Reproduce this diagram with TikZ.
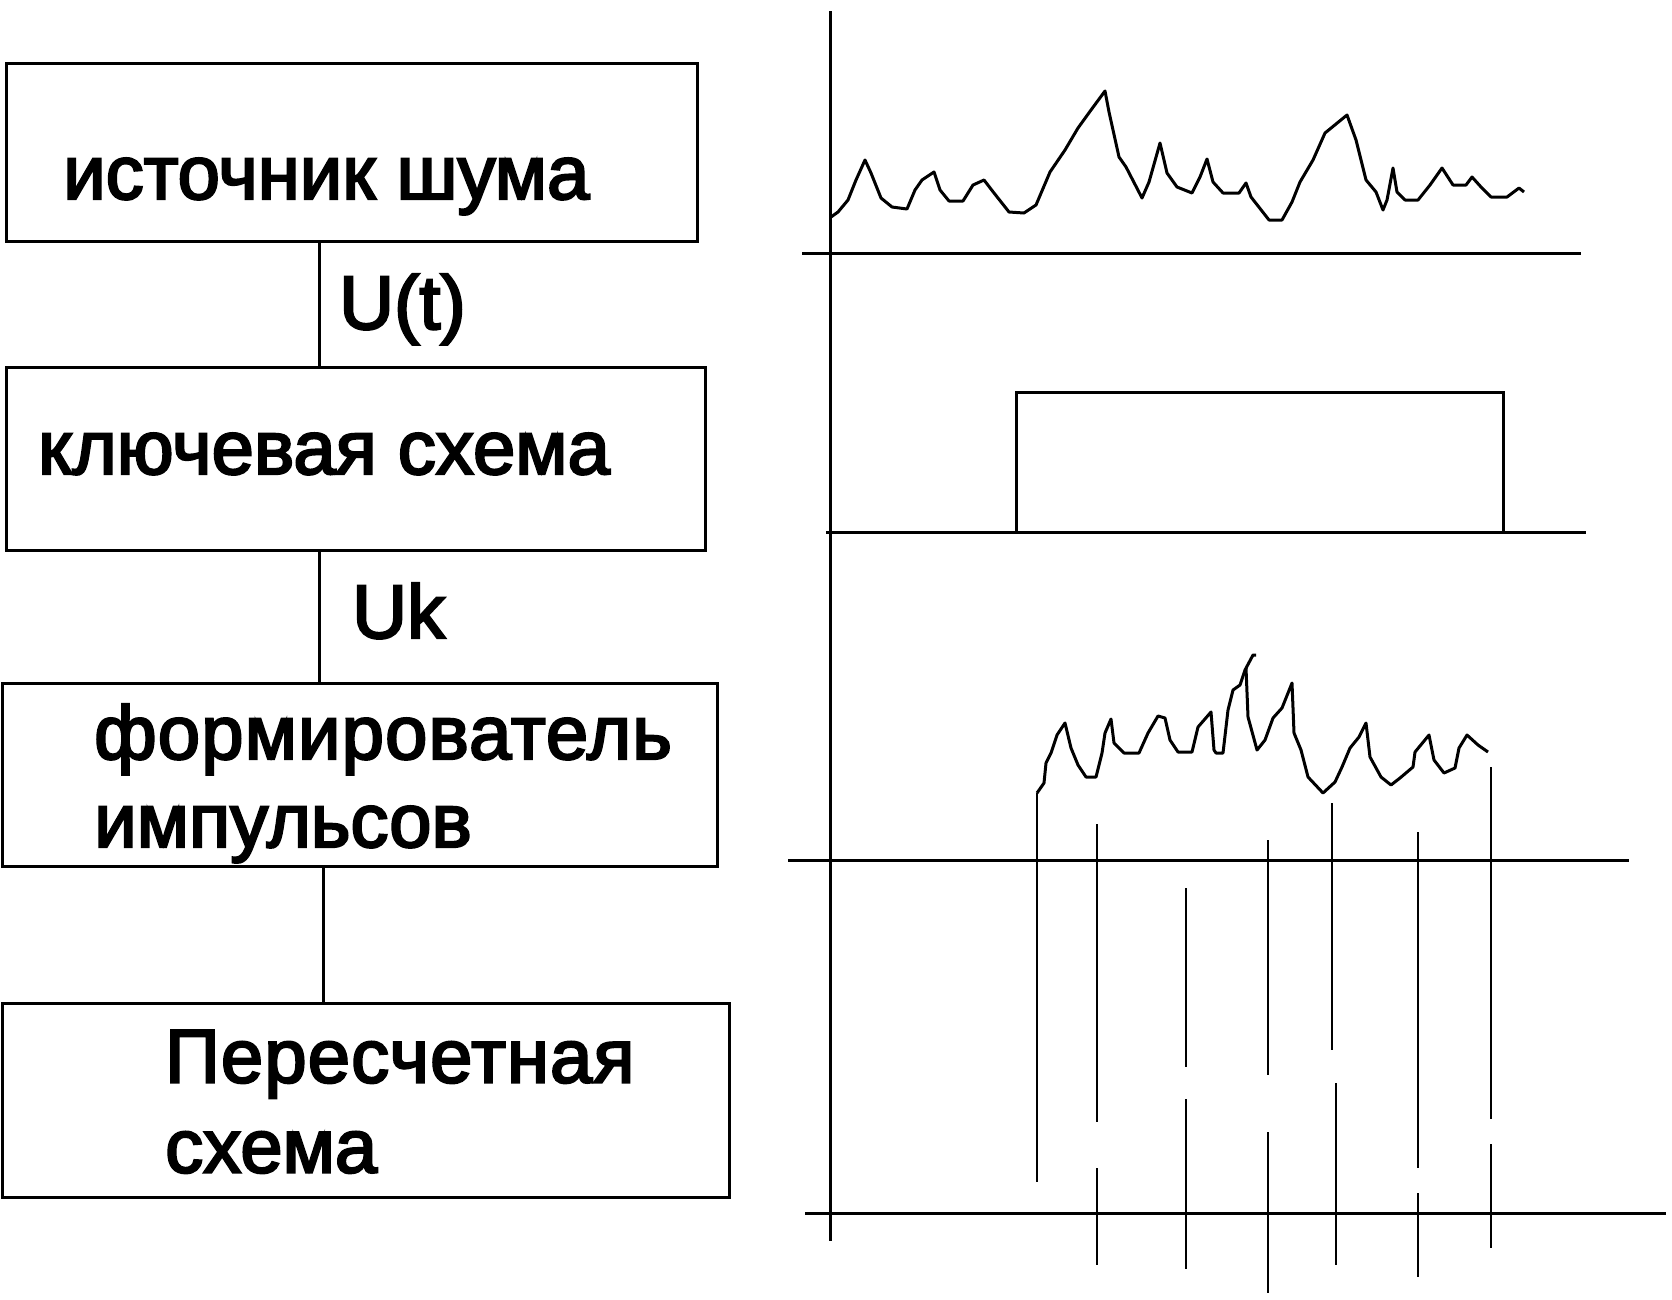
\documentclass[tikz,border=0pt]{standalone}
\usepackage{fontspec}
\setmainfont{Liberation Sans}
\newfontfamily\blkfont[FakeBold=3]{Liberation Sans}

\begin{document}
\begin{tikzpicture}[x=1pt, y=-1pt, line cap=butt]
  \useasboundingbox (0,0) rectangle (1672,1299);
  \tikzset{
    blk/.style={draw, line width=3pt, rectangle, inner sep=0pt, outer sep=0pt, anchor=north west},
    txt/.style={anchor=base west, inner sep=0pt, font=\blkfont\fontsize{76}{88}\selectfont},
    ax/.style={line width=3pt},
    tick/.style={line width=2.7pt},
    sig/.style={line width=3pt, line join=round},
  }

  % 左侧方框
  \node[blk, minimum width=691pt,   minimum height=178.5pt] (src) at (6,63)      {};
  \node[blk, minimum width=699pt,   minimum height=183pt]   (key) at (6,367)     {};
  \node[blk, minimum width=714.5pt, minimum height=183pt]   (frm) at (2.5,683)   {};
  \node[blk, minimum width=726.5pt, minimum height=194pt]   (cnt) at (2.5,1003.5) {};

  \node[txt] (srcA) at (63,199)    {источник шума};
  \node[txt] (keyA) at (38,474)    {ключевая схема};
  \node[txt] (frmA) at (94,759)    {\addfontfeature{LetterSpace=1.5}формирователь};
  \node[txt] (frmB) at (94,847)    {импульсов};
  \node[txt] (cntA) at (165,1082.5) {\addfontfeature{LetterSpace=1.5}Пересчетная};
  \node[txt] (cntB) at (165,1172.5) {схема};

  % 连线与标注
  \draw[ax] (src.south -| 319,0)   -- (key.north -| 319,0);
  \draw[ax] (key.south -| 319,0)   -- (frm.north -| 319,0);
  \draw[ax] (frm.south -| 323.5,0) -- (cnt.north -| 323.5,0);
  \node[txt] (ut) at (339,329) {U(t)};
  \node[txt] (uk) at (352,638) {Uk};

  % 右侧坐标轴
  \draw[ax] (830,11) -- (830,1241);
  \draw[ax] (802,253) -- (1581,253);
  \draw[ax] (826,532) -- (1586,532);
  \draw[ax] (788,860) -- (1629,860);
  \draw[ax] (805,1213) -- (1666,1213);

  % 噪声 U(t)
  \draw[sig] plot coordinates {
    (831,217) (838,212) (848,200) (856,180) (865,160) (871,173) (881,198)
    (892,207) (907,209) (915,190) (922,180) (934,172) (940,190) (949,201)
    (963,201) (973,185) (984,180) (994,193) (1009,212) (1024,213) (1036,205)
    (1050,172) (1065,150) (1078,128) (1091,110) (1105,91) (1109,112) (1119,157)
    (1126,167) (1142,198) (1149,182) (1160,143) (1167,173) (1177,187) (1192,193)
    (1200,177) (1207,159) (1213,182) (1223,193) (1239,193) (1246,183) (1251,197)
    (1269,220) (1282,220) (1292,202) (1300,182) (1313,160) (1325,133) (1347,115)
    (1356,140) (1366,180) (1376,192) (1383,210) (1387,200) (1393,168) (1397,192)
    (1405,200) (1418,200) (1430,185) (1442,168) (1453,185) (1466,185) (1472,177)
    (1481,187) (1491,197) (1507,197) (1519,188) (1524,192)};

  % 键控脉冲
  \draw[ax] (1016,532) -- (1016,392) -- (1503,392) -- (1503,532);

  % 键控后的噪声
  \draw[sig] plot coordinates {
    (1037,793) (1044,783) (1046,763) (1051,753) (1057,735) (1065,723) (1071,748)
    (1078,765) (1086,777) (1096,777) (1102,753) (1105,733) (1111,719) (1114,743)
    (1124,753) (1139,753) (1148,733) (1158,716) (1165,718) (1170,740) (1178,752)
    (1192,752) (1198,727) (1211,712) (1214,750) (1216,753) (1223,753) (1228,710)
    (1233,690) (1240,685) (1245,670) (1253,655) (1256,655)};
  \draw[sig] plot coordinates {
    (1246,668) (1248,717) (1257,750) (1265,740) (1273,718) (1282,708) (1292,683)
    (1294,733) (1301,750) (1308,777) (1323,793) (1335,782) (1342,767) (1350,748)
    (1359,737) (1366,723) (1370,757) (1381,777) (1391,785) (1400,778) (1413,767)
    (1415,752) (1429,735) (1434,760) (1444,773) (1455,768) (1459,748) (1467,735)
    (1478,745) (1488,752)};

  % 计数脉冲
  \foreach \x/\a/\b in {1037/793/1182, 1097/824/1122, 1097/1168/1265,
      1186/888/1067, 1186/1099/1269, 1268/840/1075, 1268/1132/1293,
      1332/803/1050, 1336/1083/1265, 1418/832/1168, 1418/1193/1277,
      1491/767/1119, 1491/1144/1248}
    \draw[tick] (\x,\a) -- (\x,\b);
\end{tikzpicture}
\end{document}
